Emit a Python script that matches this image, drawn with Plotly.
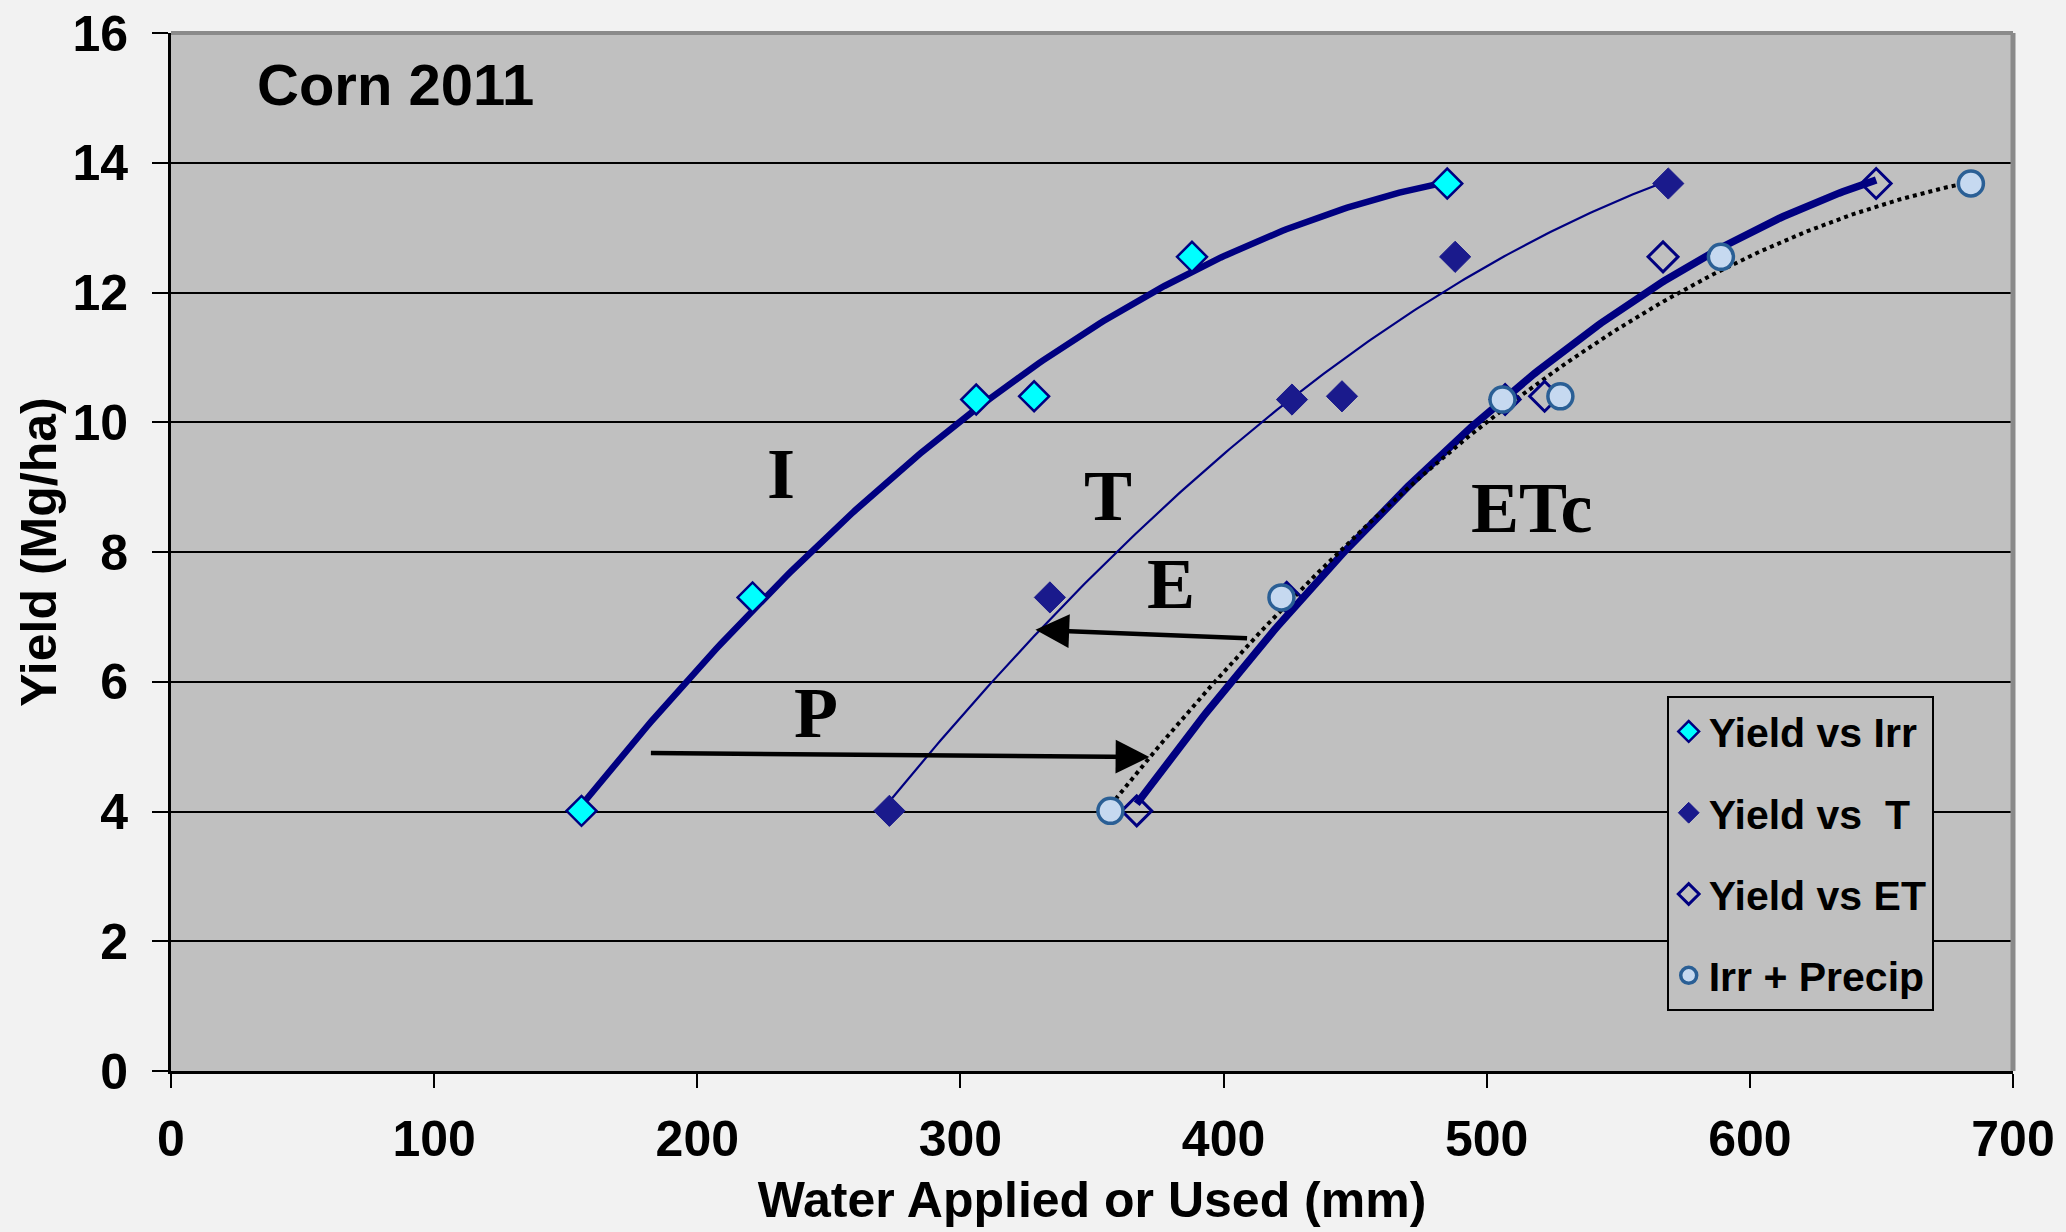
import numpy as np
import plotly.graph_objects as go

# ---- data ----
yield_mg = [4.01, 7.30, 10.35, 10.40, 12.55, 13.68]
irr = [156, 221, 306, 328, 388, 485]
transp = [273, 334, 426, 445, 488, 569]
et = [367, 424, 507, 522, 567, 648]
irr_precip = [357, 422, 506, 528, 589, 684]

x_ticks = [0, 100, 200, 300, 400, 500, 600, 700]
y_ticks = [0, 2, 4, 6, 8, 10, 12, 14, 16]

# curve labels (text, x, y)
curve_labels = [("I", 232, 9.2), ("T", 356, 8.86), ("ETc", 517, 8.68),
                ("E", 380, 7.5), ("P", 245, 5.52)]
# arrows: (tail_x, tail_y, head_x, head_y)
arrows = [(181.8, 4.90, 371.8, 4.84), (409.5, 6.67, 328.5, 6.80)]

NAVY = "#000080"
FONT = "Liberation Sans, Arial, sans-serif"
SERIF = "Liberation Serif, Times New Roman, serif"

fig = go.Figure()


def trend(xs, ys):
    c = np.polyfit(xs, ys, 2)
    xx = np.linspace(min(xs), max(xs), 200)
    return xx, np.polyval(c, xx)


# trend lines
for xs, w, dash, col in [(irr, 6.5, "solid", NAVY), (transp, 2.2, "solid", NAVY),
                         (et, 7.5, "solid", NAVY), (irr_precip, 4, "dot", "#000000")]:
    xx, yy = trend(xs, yield_mg)
    fig.add_trace(go.Scatter(x=xx, y=yy, mode="lines", showlegend=False,
                             line=dict(color=col, width=w, dash=dash),
                             hoverinfo="skip"))

fig.add_trace(go.Scatter(x=irr, y=yield_mg, mode="markers", name="Yield vs Irr",
                         legendgroup="a",
                         marker=dict(symbol="diamond", size=23, color="#00ffff",
                                     line=dict(color=NAVY, width=2.5))))
fig.add_trace(go.Scatter(x=transp, y=yield_mg, mode="markers", name="Yield vs  T",
                         legendgroup="b",
                         marker=dict(symbol="diamond", size=24, color="#1a1a8c",
                                     line=dict(color="#1a1a8c", width=1))))
fig.add_trace(go.Scatter(x=et, y=yield_mg, mode="markers", name="Yield vs ET",
                         legendgroup="c",
                         marker=dict(symbol="diamond-open", size=23, color=NAVY,
                                     line=dict(color=NAVY, width=3))))
fig.add_trace(go.Scatter(x=irr_precip, y=yield_mg, mode="markers", name="Irr + Precip",
                         legendgroup="d",
                         marker=dict(symbol="circle", size=25, color="#c6d9f0",
                                     line=dict(color="#2a5f95", width=3.5))))

annotations = []
for t, x, y in curve_labels:
    annotations.append(dict(x=x, y=y, xref="x", yref="y", text=t, showarrow=False,
                            font=dict(family=SERIF, size=72, color="black",
                                      weight="bold"),
                            xanchor="center", yanchor="middle"))
for tx, ty, hx, hy in arrows:
    annotations.append(dict(x=hx, y=hy, ax=tx, ay=ty, xref="x", yref="y",
                            axref="x", ayref="y", text="", showarrow=True,
                            arrowhead=2, arrowsize=1.5, arrowwidth=4.5,
                            arrowcolor="black"))
annotations.append(dict(x=0.0455, y=0.95, xref="paper", yref="paper",
                        text="Corn 2011", showarrow=False,
                        font=dict(family=FONT, size=58, color="black",
                                  weight="bold"),
                        xanchor="left", yanchor="middle"))

fig.update_layout(
    width=2066, height=1232,
    margin=dict(l=171, r=53, t=33, b=161),
    paper_bgcolor="#f2f2f2", plot_bgcolor="#c0c0c0",
    font=dict(family=FONT, size=50, color="black", weight="bold"),
    annotations=annotations,
    shapes=[
        dict(type="line", xref="paper", yref="paper", x0=0, x1=1, y0=1, y1=1,
             line=dict(color="#8a8a8a", width=4)),
        dict(type="line", xref="paper", yref="paper", x0=1, x1=1, y0=0, y1=1,
             line=dict(color="#8a8a8a", width=5)),
    ],
    legend=dict(x=0.812, y=0.361, xanchor="left", yanchor="top",
                bgcolor="#c0c0c0", bordercolor="#000000", borderwidth=2,
                font=dict(family=FONT, size=41, color="black", weight="bold"),
                tracegroupgap=25, itemwidth=30),
    xaxis=dict(range=[0, 700], tickvals=x_ticks, showgrid=False,
               showline=True, linecolor="black", linewidth=3,
               ticks="outside", ticklen=14, tickwidth=2, tickcolor="black",
               tickfont=dict(family=FONT, size=50, weight="bold"),
               ticklabelstandoff=8, automargin=False,
               title=dict(text="Water Applied or Used (mm)",
                          font=dict(family=FONT, size=50, weight="bold"),
                          standoff=16),
               zeroline=False, fixedrange=True),
    yaxis=dict(range=[0, 16], tickvals=y_ticks, showgrid=True,
               gridcolor="black", gridwidth=2,
               showline=True, linecolor="black", linewidth=3,
               ticks="outside", ticklen=16, tickwidth=2, tickcolor="black",
               tickfont=dict(family=FONT, size=50, weight="bold"),
               ticklabelstandoff=14, automargin=False,
               title=dict(text="Yield (Mg/ha)",
                          font=dict(family=FONT, size=50, weight="bold"),
                          standoff=0),
               zeroline=False, fixedrange=True),
)

fig.write_html("out.html")
